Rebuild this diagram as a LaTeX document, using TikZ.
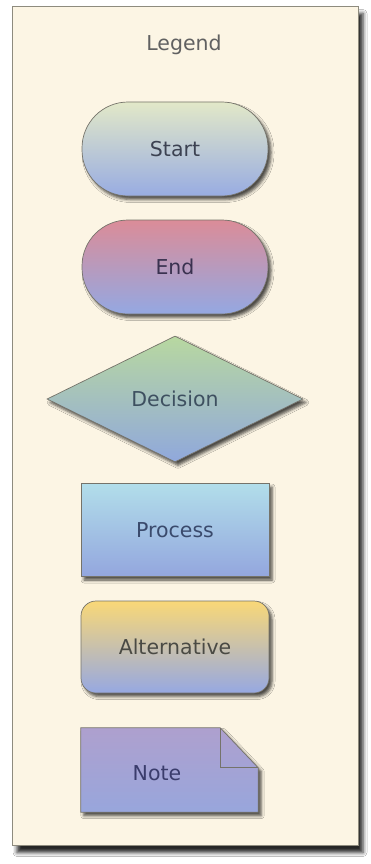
\documentclass[tikz,border=0pt]{standalone}
\usepackage{fontspec}
\setmainfont{DejaVu Sans}
\usetikzlibrary{shapes.geometric,shadows.blur}
\definecolor{paper}{HTML}{FCF5E4}
\definecolor{panelline}{HTML}{8E8B7E}
\definecolor{edge}{HTML}{75736A}
\definecolor{stTop}{HTML}{E2E8C8}\definecolor{stBot}{HTML}{98ACE2}\definecolor{stTxt}{HTML}{3C4252}
\definecolor{enTop}{HTML}{DB8C98}\definecolor{enBot}{HTML}{94A8E2}\definecolor{enTxt}{HTML}{3A3250}
\definecolor{deTop}{HTML}{B8D8A0}\definecolor{deBot}{HTML}{90A8DC}\definecolor{deTxt}{HTML}{3E5060}
\definecolor{prTop}{HTML}{B2DEEA}\definecolor{prBot}{HTML}{93A6DE}\definecolor{prTxt}{HTML}{3A4A6C}
\definecolor{alTop}{HTML}{F9D877}\definecolor{alBot}{HTML}{96A8E2}\definecolor{alTxt}{HTML}{4A4A44}
\definecolor{noTop}{HTML}{AEA0CE}\definecolor{noBot}{HTML}{98A6DC}\definecolor{noTxt}{HTML}{3A3C6C}
\tikzset{
  panelbox/.style={draw=panelline, line width=0.9pt, fill=paper, minimum width=346pt, minimum height=839pt, inner sep=0pt,
    blur shadow={shadow xshift=5pt, shadow yshift=-7pt, shadow blur radius=4pt, shadow opacity=85}},
  legshape/.style={draw=edge, line width=0.7pt, inner sep=0pt, font=\fontsize{20.5}{24}\selectfont,
    blur shadow={shadow xshift=3pt, shadow yshift=-3.5pt, shadow blur radius=3pt, shadow opacity=70}},
  term/.style={legshape, rectangle, rounded corners=46pt, minimum width=186pt, minimum height=94pt},
  proc/.style={legshape, rectangle, minimum width=188pt, minimum height=93pt},
  alt/.style={legshape, rectangle, rounded corners=15pt, minimum width=188pt, minimum height=92pt},
  dec/.style={legshape, diamond, minimum width=256pt, minimum height=126pt},
  lbl/.style={font=\fontsize{20.5}{24}\selectfont}
}
\begin{document}
\begin{tikzpicture}[x=1pt,y=-1pt]
\useasboundingbox (0,0) rectangle (371,864);
\fill[white] (0,0) rectangle (371,864);
\node[panelbox] (panel) at (185,426) {};
\node[lbl, text=black!62] (legend) at (184,45) {Legend};
\node[term, top color=stTop, bottom color=stBot, text=stTxt] (start) at (175,149) {Start};
\node[term, top color=enTop, bottom color=enBot, text=enTxt] (end) at (175,267) {End};
\node[dec, top color=deTop, bottom color=deBot, text=deTxt] (decision) at (175,399) {Decision};
\node[proc, top color=prTop, bottom color=prBot, text=prTxt] (process) at (175,530) {Process};
\node[alt, top color=alTop, bottom color=alBot, text=alTxt] (alternative) at (175,647) {Alternative};
\node[inner sep=0pt, minimum width=177pt, minimum height=84pt] (note) at (169.5,770) {};
\path[draw=edge, line width=0.7pt, top color=noTop, bottom color=noBot,
  blur shadow={shadow xshift=3pt, shadow yshift=-3.5pt, shadow blur radius=3pt, shadow opacity=70}]
  (note.north west) -- ([xshift=-38pt]note.north east) -- ([yshift=-40pt]note.north east)
  -- (note.south east) -- (note.south west) -- cycle;
\draw[edge, line width=0.7pt] ([xshift=-38pt]note.north east) -- ([xshift=-38pt,yshift=-40pt]note.north east) -- ([yshift=-40pt]note.north east);
\node[lbl, text=noTxt] (notelabel) at (157,773) {Note};
\end{tikzpicture}
\end{document}
